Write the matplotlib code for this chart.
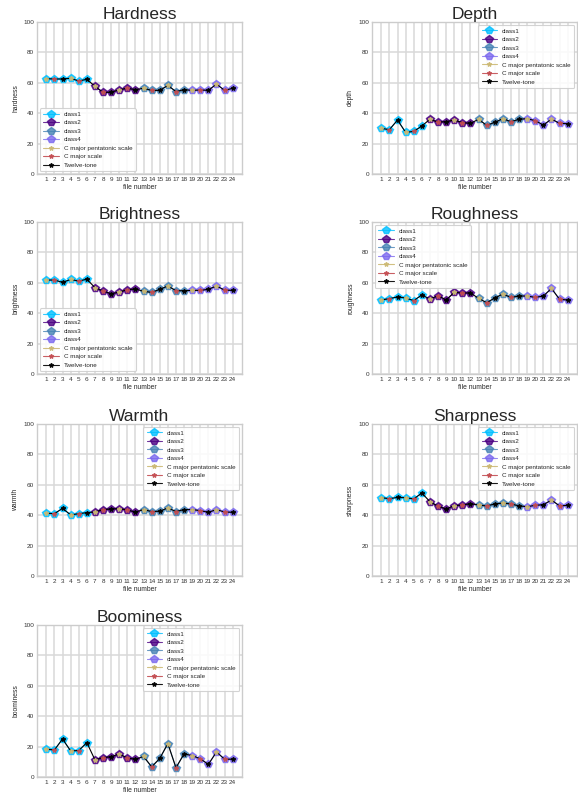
import numpy as np
import matplotlib
matplotlib.use("Agg")
import matplotlib.pyplot as plt
import seaborn as sns

sns.set_style("whitegrid")
plt.rcParams['font.family'] = ['Liberation Sans', 'DejaVu Sans']

file_numbers = list(range(1, 25))
class_names = ["class1", "class2", "class3", "class4"]
class_colors = ["deepskyblue", "indigo", "steelblue", "mediumslateblue"]
# class index of each file (1-6 class1, 7-12 class2, ...)
file_class = [0]*6 + [1]*6 + [2]*6 + [3]*6
scale_names = ["C major pentatonic scale", "C major scale", "Twelve-tone"]
scale_colors = ["#ccb974", "#c44e52", "black"]
# scale index of each file (pentatonic, major, twelve-tone repeating)
file_scale = [0, 1, 2] * 8

hardness = [62.7, 62.5, 62.5, 63.0, 61.2, 62.3, 57.7, 53.7, 53.7, 55.5, 56.4, 55.5,
            56.4, 55.0, 55.0, 58.3, 54.2, 55.5, 55.0, 55.3, 55.0, 59.2, 55.0, 56.4]
depth = [30.0, 29.2, 35.5, 27.4, 28.0, 31.6, 36.0, 34.2, 34.4, 35.5, 33.8, 33.3,
         36.0, 32.0, 34.0, 36.4, 34.4, 36.0, 36.4, 35.1, 32.2, 36.2, 33.3, 33.1]
brightness = [61.8, 61.8, 60.3, 62.2, 61.1, 62.4, 56.8, 54.6, 52.8, 53.9, 55.5, 55.9,
              54.4, 53.7, 55.7, 57.9, 54.8, 54.8, 55.0, 55.0, 55.7, 57.9, 55.2, 55.0]
roughness = [48.7, 49.6, 50.7, 50.0, 48.3, 52.0, 49.3, 51.5, 48.7, 53.7, 53.3, 53.3,
             49.8, 46.9, 50.0, 52.6, 50.4, 51.3, 51.3, 50.4, 51.3, 56.3, 49.1, 48.7]
warmth = [41.3, 41.0, 44.5, 40.2, 41.0, 41.7, 42.1, 43.7, 44.1, 44.3, 43.4, 42.1,
          43.7, 42.4, 42.6, 44.8, 42.4, 43.7, 43.7, 43.0, 41.9, 43.7, 42.1, 41.9]
sharpness = [51.5, 50.9, 51.7, 51.5, 50.7, 54.6, 48.9, 45.9, 44.1, 46.3, 46.7, 47.6,
             46.7, 46.1, 47.4, 48.0, 47.4, 46.1, 45.6, 46.5, 46.9, 50.0, 46.1, 46.5]
boominess = [18.3, 17.8, 25.0, 17.2, 17.4, 22.6, 11.3, 12.8, 13.3, 15.2, 12.4, 11.7,
             13.5, 6.7, 12.2, 22.0, 6.1, 15.2, 14.1, 12.0, 8.3, 16.5, 11.7, 11.7]

titles = ["Hardness", "Depth", "Brightness", "Roughness", "Warmth", "Sharpness", "Boominess"]
ylabels = ["hardness", "depth", "brightness", "roughness", "warmth", "sharpness", "boominess"]
series = [hardness, depth, brightness, roughness, warmth, sharpness, boominess]
legend_locs = ["lower left", "upper right", "lower left", "upper left",
               "upper right", "upper right", "upper right"]

W, H = 578, 800
fig = plt.figure(figsize=(W/100, H/100), dpi=100)

lefts = [37, 372]
tops = [22, 222, 424, 625]
aw, ah = 205, 152

x = np.array(file_numbers)
fc = np.array(file_class)
fs = np.array(file_scale)
grid_c = "#d8d8d8"

for i, (title, ylab, vals, loc) in enumerate(zip(titles, ylabels, series, legend_locs)):
    r, c = divmod(i, 2)
    ax = fig.add_axes([lefts[c]/W, 1 - (tops[r]+ah)/H, aw/W, ah/H])
    y = np.array(vals, dtype=float)
    for k in range(4):
        m = fc == k
        ax.plot(x[m], y[m], '-', marker='p', color=class_colors[k], ms=5.5, lw=0.8,
                alpha=0.8, label=class_names[k], zorder=3)
    ax.plot(x, y, '-', color='black', lw=0.8, zorder=4)
    for k in range(3):
        ys = np.where(fs == k, y, np.nan)
        ax.plot(x, ys, '-', marker='*', color=scale_colors[k], ms=3.2, lw=0.8,
                label=scale_names[k], zorder=5, alpha=0.9)
    ax.set_ylim(0, 100)
    ax.set_xticks(file_numbers)
    ax.set_yticks([0, 20, 40, 60, 80, 100])
    ax.tick_params(axis='both', labelsize=4.6, pad=2, length=0, colors='#333333')
    ax.grid(True, color=grid_c, lw=1.1)
    for s in ax.spines.values():
        s.set_color("#cccccc")
        s.set_linewidth(1.0)
    ax.set_title(title, fontsize=12.5, pad=2.5, color='#262626')
    ax.set_ylabel(ylab, fontsize=4.9, labelpad=3, color='#262626')
    ax.set_xlabel("file number", fontsize=4.9, labelpad=1.5, color='#262626')
    leg = ax.legend(loc=loc, fontsize=4.5, handlelength=2.5, framealpha=0.85,
                    borderpad=0.5, labelspacing=0.5)
    leg.get_frame().set_edgecolor("#cccccc")
    leg.get_frame().set_linewidth(0.8)

fig.savefig("out.png", dpi=100)
